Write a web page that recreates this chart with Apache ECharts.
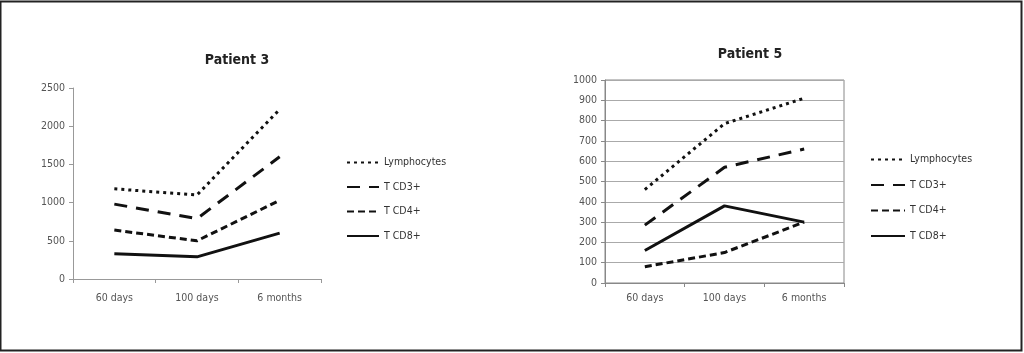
<!DOCTYPE html>
<html><head><meta charset="utf-8">
<script src="https://cdn.jsdelivr.net/npm/echarts@6/dist/echarts.min.js"></script>
<style>html,body{margin:0;padding:0;background:#fff}#c{width:1024px;height:353px}</style>
</head><body><div id="c"></div>
<script>
const categories = ['60 days', '100 days', '6 months'];
const seriesNames = ['Lymphocytes', 'T CD3+', 'T CD4+', 'T CD8+'];
const p3Lymphocytes = [1180, 1100, 2220];
const p3CD3 = [980, 790, 1600];
const p3CD4 = [640, 500, 1030];
const p3CD8 = [330, 290, 600];
const p5Lymphocytes = [460, 785, 910];
const p5CD3 = [285, 570, 660];
const p5CD4 = [80, 150, 300];
const p5CD8 = [160, 380, 300];
const titles = ['Patient 3', 'Patient 5'];

const FONT = "'Liberation Sans Narrow','DejaVu Sans Condensed',sans-serif";
const styles = [
  {type: [3, 4], width: 3, cap: 'butt'},
  {type: [13, 9], width: 3},
  {type: [7, 4], width: 3},
  {type: 'solid', width: 3}
];
const p3 = [p3Lymphocytes, p3CD3, p3CD4, p3CD8];
const p5 = [p5Lymphocytes, p5CD3, p5CD4, p5CD8];

function mk(data, idx) {
  return data.map((d, i) => ({
    name: seriesNames[i], type: 'line', xAxisIndex: idx, yAxisIndex: idx,
    data: d, symbol: 'none', smooth: false, animation: false,
    lineStyle: Object.assign({color: '#111'}, styles[i]),
    itemStyle: {color: '#111'}
  }));
}

const axisLabel = {color: '#555', fontSize: 10.5, fontFamily: FONT};
const yLabel = Object.assign({margin: 8, formatter: v => String(v)}, axisLabel);
const legendCommon = {data: seriesNames, orient: 'vertical', itemHeight: 10, selectedMode: false,
  itemStyle: {opacity: 0}, textStyle: {fontSize: 10.5, color: '#333', fontFamily: FONT}};
const chart = echarts.init(document.getElementById('c'));
chart.setOption({
  animation: false,
  graphic: [{type: 'rect', shape: {x: 0.5, y: 1.5, width: 1021, height: 349},
    style: {fill: 'none', stroke: '#222', lineWidth: 2}}],
  title: [
    {text: titles[0], left: 232, top: 48, textAlign: 'center',
      textStyle: {fontSize: 14, fontWeight: 'bold', fontFamily: FONT, color: '#222'}},
    {text: titles[1], left: 745, top: 42, textAlign: 'center',
      textStyle: {fontSize: 14, fontWeight: 'bold', fontFamily: FONT, color: '#222'}}
  ],
  legend: [
    Object.assign({left: 341, top: 152, itemWidth: 32, itemGap: 13.5}, legendCommon),
    Object.assign({left: 865, top: 149, itemWidth: 34, itemGap: 14.5}, legendCommon)
  ],
  grid: [
    {left: 73, top: 88, width: 248, height: 191, containLabel: false},
    {left: 605, top: 80, width: 239, height: 203, containLabel: false,
      show: true, borderColor: '#888', borderWidth: 1}
  ],
  xAxis: [
    {type: 'category', gridIndex: 0, data: categories, boundaryGap: true,
      axisLine: {lineStyle: {color: '#999'}}, axisTick: {show: true, length: 4, lineStyle: {color: '#999'}},
      axisLabel: Object.assign({margin: 14}, axisLabel)},
    {type: 'category', gridIndex: 1, data: categories, boundaryGap: true,
      axisLine: {lineStyle: {color: '#888'}}, axisTick: {show: true, length: 4, lineStyle: {color: '#888'}},
      axisLabel: Object.assign({margin: 10}, axisLabel)}
  ],
  yAxis: [
    {type: 'value', gridIndex: 0, min: 0, max: 2500, interval: 500,
      axisLine: {show: true, lineStyle: {color: '#999'}}, axisTick: {show: true, length: 4, lineStyle: {color: '#999'}},
      splitLine: {show: false}, axisLabel: yLabel},
    {type: 'value', gridIndex: 1, min: 0, max: 1000, interval: 100,
      axisLine: {show: true, lineStyle: {color: '#888'}}, axisTick: {show: true, length: 4, lineStyle: {color: '#888'}},
      splitLine: {show: true, lineStyle: {color: '#aaa', width: 1}}, axisLabel: yLabel}
  ],
  series: mk(p3, 0).concat(mk(p5, 1))
});
</script></body></html>
